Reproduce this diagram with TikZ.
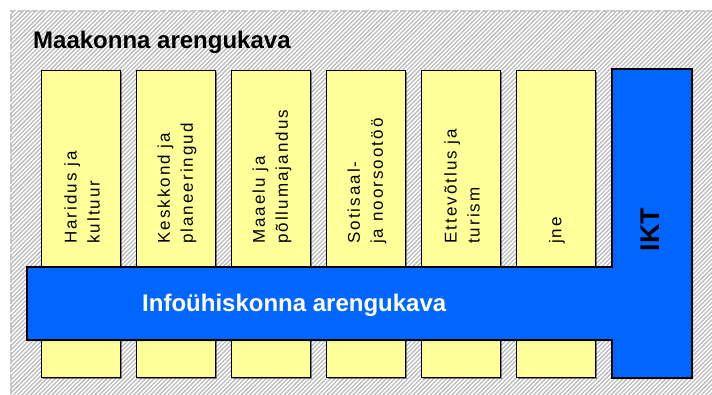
\documentclass[tikz,border=0pt]{standalone}
\usepackage{fontspec}
\setmainfont{Liberation Sans}
\newfontfamily\colfont[LetterSpace=12]{Liberation Sans}
\usetikzlibrary{shadows}
\definecolor{boxyellow}{RGB}{255,255,153}
\definecolor{ikblue}{RGB}{0,102,255}
\definecolor{hatchgray}{RGB}{190,190,190}
\tikzset{
  colbox/.style={draw=black, line width=1.2pt, fill=boxyellow, anchor=north west,
    minimum width=79pt, minimum height=307pt, inner sep=0pt,
    drop shadow={shadow xshift=1.2pt, shadow yshift=-1.2pt, opacity=0.45, fill=black}},
  collabel/.style={rotate=90, anchor=west, inner sep=0pt, align=left,
    font=\colfont\fontsize{17}{23}\selectfont},
  bluepath/.style={draw=black, line width=1.2pt, fill=ikblue},
}
\begin{document}
\begin{tikzpicture}[x=1pt,y=-1pt]
\useasboundingbox (0,0) rectangle (712,394);
\fill[white] (0,0) rectangle (712,394);
% hatched background
\begin{scope}
  \clip (10,10) rectangle (712,394);
  \foreach \k in {0,...,262} {
    \draw[hatchgray, line width=1.3pt] (-392+4.3*\k,396) -- ++(388,-388);
  }
\end{scope}
\draw[gray!45, line width=1.6pt, dash pattern=on 5pt off 2.5pt] (10.8,394) -- (10.8,10.8) -- (712,10.8);
% title
\node[anchor=base west, inner sep=0pt, font=\bfseries\fontsize{24}{28}\selectfont] (title) at (33,48) {Maakonna arengukava};
% columns
\node[colbox] (c1) at (41,70) {};
\node[colbox] (c2) at (136,70) {};
\node[colbox] (c3) at (231,70) {};
\node[colbox] (c4) at (326,70) {};
\node[colbox] (c5) at (421,70) {};
\node[colbox] (c6) at (516,70) {};
% column labels
\node[collabel] (l1) at (82,244) {Haridus ja\\kultuur};
\node[collabel] (l2) at (177,244) {Keskkond ja\\planeeringud};
\node[collabel] (l3) at (272,244) {Maaelu ja\\põllumajandus};
\node[collabel] (l4) at (367,244) {Sotisaal-\\ja noorsootöö};
\node[collabel] (l5) at (462,244) {Ettevõtlus ja\\turism};
\node[collabel] (l6) at (557,244) {jne};
% blue T shape
\fill[black, opacity=0.45] (28.2,268.2) -- (613.2,268.2) -- (613.2,70.2) -- (693.2,70.2) -- (693.2,379.2) -- (613.2,379.2) -- (613.2,341.2) -- (28.2,341.2) -- cycle;
\draw[bluepath] (27,267) -- (612,267) -- (612,69) -- (692,69) -- (692,378) -- (612,378) -- (612,340) -- (27,340) -- cycle;
\node[anchor=base west, inner sep=0pt, text=white, font=\bfseries\fontsize{24}{28}\selectfont] (info) at (142,311) {Infoühiskonna arengukava};
\node[rotate=90, inner sep=0pt, font=\bfseries\fontsize{27}{30}\selectfont] (ikt) at (650,229.5) {IKT};
\end{tikzpicture}
\end{document}
